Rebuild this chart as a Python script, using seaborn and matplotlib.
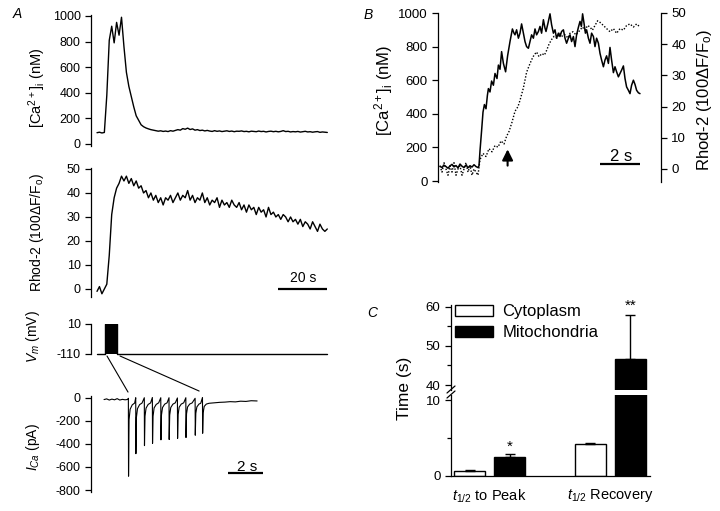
import numpy as np
import pandas as pd
import matplotlib
matplotlib.use("Agg")
import matplotlib.pyplot as plt
import seaborn as sns
from matplotlib.patches import Patch, ConnectionPatch
from matplotlib.lines import Line2D

sns.set_style("ticks")
plt.rcParams['font.family'] = ['Liberation Sans', 'DejaVu Sans']
plt.rcParams['mathtext.fontset'] = 'custom'
plt.rcParams['mathtext.rm'] = 'Liberation Sans'
plt.rcParams['mathtext.it'] = 'Liberation Sans:italic'
plt.rcParams['mathtext.bf'] = 'Liberation Sans:bold'
plt.rcParams['axes.edgecolor'] = 'black'
plt.rcParams['axes.linewidth'] = 0.9
plt.rcParams['axes.unicode_minus'] = False
plt.rcParams['xtick.color'] = 'black'
plt.rcParams['ytick.color'] = 'black'
plt.rcParams['text.color'] = 'black'

# ---------------- data ----------------
# A: cytosolic Ca (nM), one sample per second
ca_nm = [88, 92, 86, 90, 380, 810, 920, 790, 950, 850,
         990, 760, 560, 450, 370, 290, 220, 185, 150, 135,
         125, 118, 112, 108, 104, 100, 103, 98, 101, 97,
         104, 100, 106, 112, 108, 120, 115, 124, 113, 118,
         108, 112, 105, 108, 102, 106, 101, 98, 104, 99,
         102, 97, 100, 103, 98, 101, 96, 100, 99, 102,
         97, 99, 95, 100, 98, 96, 101, 97, 99, 94,
         98, 100, 96, 99, 95, 98, 104, 97, 99, 94,
         97, 95, 98, 93, 96, 99, 94, 96, 92, 95,
         97, 91, 94, 92, 90]
# A: rhod-2 (100 dF/Fo), one sample per second
rhod_a = [-1, 1, -2, 0, 2, 14, 31, 38, 42, 44,
          47, 45, 47, 44, 46, 43, 45, 42, 43, 40,
          41, 38, 40, 37, 39, 36, 38, 35, 38, 37,
          39, 36, 38, 40, 37, 39, 38, 41, 37, 39,
          36, 38, 37, 40, 36, 38, 35, 37, 36, 38,
          34, 37, 35, 36, 34, 37, 35, 34, 36, 33,
          35, 32, 35, 33, 34, 31, 34, 32, 33, 30,
          34, 31, 32, 30, 31, 29, 31, 30, 28, 30,
          28, 29, 27, 29, 26, 28, 27, 25, 28, 26,
          24, 27, 25, 24, 25]
sample_s = 1.0

# A: voltage protocol
vm_t = [0, 3.3, 3.3, 8.2, 8.2, 94]
vm_mv = [-110, -110, 10, 10, -110, -110]
pulse_on, pulse_off = 3.3, 8.2

# A: Ca current (pA)
ica_t = [0.00, 0.15, 0.30, 0.45, 0.60, 0.75, 0.90, 1.05, 1.20, 1.35,
         1.39, 1.40, 1.43, 1.49, 1.61, 1.75,
         1.81, 1.82, 1.85, 1.91, 2.03, 2.17,
         2.30, 2.31, 2.34, 2.40, 2.52, 2.66,
         2.76, 2.77, 2.80, 2.86, 2.98, 3.12,
         3.24, 3.25, 3.28, 3.34, 3.46, 3.60,
         3.71, 3.72, 3.75, 3.81, 3.93, 4.07,
         4.19, 4.20, 4.23, 4.29, 4.41, 4.55,
         4.67, 4.68, 4.71, 4.77, 4.89, 5.03,
         5.20, 5.21, 5.24, 5.30, 5.42, 5.52,
         5.62, 5.63, 5.66, 5.72, 5.84, 6.00,
         6.30, 6.60, 6.90, 7.20, 7.50, 7.80, 8.10, 8.40, 8.74]
ica_pa = [-16, -10, -20, -12, -18, -8, -20, -14, -18, -15,
          -5, -680, -190, -100, -62, -46,
          0, -485, -170, -95, -60, -46,
          0, -415, -160, -90, -58, -45,
          2, -395, -160, -88, -58, -44,
          0, -365, -150, -85, -56, -44,
          0, -362, -150, -85, -56, -44,
          -2, -352, -145, -82, -55, -44,
          0, -345, -140, -80, -55, -45,
          -5, -325, -135, -80, -55, -48,
          2, -308, -130, -75, -55, -48,
          -44, -40, -38, -34, -36, -30, -32, -26, -28]

# B: expanded time course
b_ca_t = [0.0, 0.1, 0.2, 0.3, 0.4, 0.5, 0.6, 0.7, 0.8, 0.9,
          1.0, 1.1, 1.2, 1.3, 1.4, 1.5, 1.6, 1.7, 1.8, 1.9,
          1.95, 2.0, 2.08, 2.15, 2.22, 2.3, 2.37, 2.42, 2.5, 2.58,
          2.67, 2.75, 2.85, 2.92, 3.0, 3.08, 3.17, 3.28, 3.38, 3.5,
          3.62, 3.7, 3.75, 3.83, 3.92, 4.0, 4.08, 4.17, 4.25, 4.33,
          4.42, 4.5, 4.58, 4.67, 4.75, 4.83, 4.92, 5.0, 5.08, 5.17,
          5.25, 5.3, 5.4, 5.5, 5.58, 5.67, 5.75, 5.83, 5.92, 6.0,
          6.08, 6.17, 6.25, 6.33, 6.42, 6.5, 6.58, 6.67, 6.75, 6.83,
          6.92, 7.0, 7.07, 7.13, 7.2, 7.27, 7.33, 7.42, 7.5, 7.58,
          7.67, 7.75, 7.83, 7.92, 8.0, 8.08, 8.17, 8.25, 8.33, 8.42,
          8.5, 8.58, 8.67, 8.75, 8.83, 8.92, 9.0, 9.08, 9.17, 9.25,
          9.33, 9.42, 9.5, 9.58, 9.67, 9.75, 9.83, 9.92, 10.0]
b_ca_nm = [88, 80, 94, 86, 76, 90, 99, 84, 92, 78,
           101, 88, 80, 95, 79, 91, 83, 97, 86, 80,
           90, 180, 300, 410, 455, 430, 510, 550, 530, 595,
           570, 640, 610, 690, 665, 770, 700, 650, 745, 830,
           905, 880, 870, 900, 850, 880, 935, 880, 830, 800,
           790, 830, 870, 850, 905, 870, 890, 920, 880, 960,
           910, 890, 940, 995, 930, 880, 900, 850, 880, 860,
           890, 900, 850, 820, 850, 870, 830, 860, 800, 870,
           915, 950, 920, 995, 940, 880, 900, 850, 820, 880,
           860, 800, 850, 820, 760, 720, 680, 720, 745, 700,
           795, 720, 645, 680, 650, 620, 640, 660, 685, 610,
           560, 540, 520, 570, 600, 575, 540, 525, 520]
b_rh_t = [0.0, 0.1, 0.2, 0.3, 0.4, 0.5, 0.6, 0.7, 0.8, 0.9,
          1.0, 1.1, 1.2, 1.3, 1.4, 1.5, 1.6, 1.7, 1.8, 1.9,
          2.0, 2.15, 2.3, 2.45, 2.6, 2.75, 2.9, 3.05, 3.2, 3.33,
          3.45, 3.6, 3.75, 3.9, 4.0, 4.17, 4.33, 4.45, 4.58, 4.7,
          4.83, 4.95, 5.1, 5.22, 5.33, 5.45, 5.58, 5.7, 5.85, 6.0,
          6.12, 6.25, 6.4, 6.5, 6.65, 6.8, 7.0, 7.12, 7.25, 7.38,
          7.5, 7.62, 7.75, 7.88, 8.0, 8.17, 8.33, 8.5, 8.67, 8.83,
          9.0, 9.17, 9.33, 9.5, 9.67, 9.83, 10.0]
b_rhod = [1, -1, 2, 0, -2, 1, -1, 2, -2, 0,
          1, -2, 0, 2, -1, 1, -2, 0, -1, -2,
          3, 5, 4, 6.5, 5.5, 7.5, 7, 9, 8, 10.5,
          12, 15, 18.5, 20, 22, 26, 31, 33, 35, 36.5,
          37.5, 36, 37, 36.5, 38, 40, 41.5, 42.5, 42, 43.5,
          42.5, 43, 42, 43.5, 44, 43, 44.5, 45.5, 44.5, 46,
          45.5, 44.5, 46, 47.5, 47, 46, 45, 44, 45, 43.5,
          45, 44.5, 46, 46.5, 45.5, 46.5, 45.5]
arrow_t = 3.38

# C: half-times (s)
phases = [r"$t_{1/2}$ to Peak", r"$t_{1/2}$ Recovery"]
compartments = ["Cytoplasm", "Mitochondria"]
cyto_mean = [0.7, 4.2]
cyto_err = [0.05, 0.2]
mito_mean = [2.5, 46.7]
mito_err = [0.35, 11.3]

# ---------------- figure ----------------
W, H = 720, 511
fig = plt.figure(figsize=(W / 100, H / 100), dpi=100)


def add_ax(x0, y0, x1, y1):
    return fig.add_axes([x0 / W, 1 - y1 / H, (x1 - x0) / W, (y1 - y0) / H])


def style(ax, fs=9):
    for s in ['top', 'right', 'bottom']:
        ax.spines[s].set_visible(False)
    ax.tick_params(axis='y', direction='out', length=4.5, width=0.9, pad=3, labelsize=fs)
    ax.tick_params(axis='x', bottom=False, labelbottom=False)
    ax.set_xlabel('')
    ax.set_ylabel('')
    ax.patch.set_alpha(0)


def trace(ax, x, y, **kw):
    sns.lineplot(x=x, y=y, ax=ax, color='k', estimator=None, sort=False, **kw)


ca_t = np.arange(len(ca_nm)) * sample_s
rh_t = np.arange(len(rhod_a)) * sample_s

# A - Ca
ax_ca = add_ax(91, 14.7, 330, 145.9)
trace(ax_ca, ca_t, ca_nm, lw=1.0)
ax_ca.set_xlim(-2.45, 95.1)
ax_ca.set_ylim(-15, 1010)
ax_ca.set_yticks(range(0, 1001, 200))
style(ax_ca)

# A - rhod-2
ax_rh = add_ax(91, 168, 330, 296.9)
trace(ax_rh, rh_t, rhod_a, lw=1.0)
ax_rh.set_xlim(-2.45, 95.1)
ax_rh.set_ylim(-3.3, 50.4)
ax_rh.set_yticks(range(0, 51, 10))
style(ax_rh)
ax_rh.plot([74, 94], [0, 0], color='k', lw=1.6, solid_capstyle='butt')
ax_rh.text(84, 4.6, '20 s', ha='center', va='center', fontsize=10)

# A - Vm
ax_vm = add_ax(91, 323.5, 330, 355.5)
trace(ax_vm, vm_t, vm_mv, lw=1.0)
ax_vm.fill_between([pulse_on, pulse_off], -110, 10, color='k', lw=0)
ax_vm.set_xlim(-2.45, 95.1)
ax_vm.set_ylim(-116, 12)
ax_vm.set_yticks([10, -110])
style(ax_vm)
ax_vm.spines['left'].set_bounds(-110, 12)

# A - ICa
ax_i = add_ax(91, 396, 330, 492)
trace(ax_i, ica_t, ica_pa, lw=0.8)
ax_i.set_xlim(-0.743, 12.9)
ax_i.set_ylim(-817, 15)
ax_i.set_yticks(range(0, -801, -200))
style(ax_i)
ax_i.plot([7.09, 9.09], [-652, -652], color='k', lw=1.6, solid_capstyle='butt')
ax_i.text(8.15, -598, '2 s', ha='center', va='center', fontsize=11)

for (ta, tb, yb) in [(4.08, 1.37, 49), (9.39, 5.43, 58)]:
    con = ConnectionPatch(xyA=(ta, -118), coordsA=ax_vm.transData,
                          xyB=(tb, yb), coordsB=ax_i.transData, lw=0.8, color='k')
    fig.add_artist(con)

# A labels
fig.text(17 / W, 1 - 14 / H, 'A', style='italic', fontsize=10, ha='center', va='center')
fig.text(37 / W, 1 - 88 / H, r"[Ca$^{2+}$]$_\mathrm{i}$ (nM)", rotation=90, fontsize=10.5,
         ha='center', va='center')
fig.text(37 / W, 1 - 233 / H, r"Rhod-2 (100ΔF/F$_\mathrm{o}$)", rotation=90, fontsize=10,
         ha='center', va='center')
fig.text(33 / W, 1 - 337 / H, r"$V_m$ (mV)", rotation=90, fontsize=10,
         ha='center', va='center')
fig.text(33 / W, 1 - 447 / H, r"$I_{Ca}$ (pA)", rotation=90, fontsize=10,
         ha='center', va='center')

# B
ax_b = add_ax(438, 13, 661, 181.84)
trace(ax_b, b_ca_t, b_ca_nm, lw=1.1)
ax_b.set_xlim(-0.1, 11.05)
ax_b.set_ylim(-5, 1000)
ax_b.set_yticks(range(0, 1001, 200))
style(ax_b, fs=9.5)
ax_b2 = ax_b.twinx()
trace(ax_b2, b_rh_t, b_rhod, lw=1.0, linestyle=(0, (1, 1.3)))
ax_b2.set_ylim(-4.12, 50)
ax_b2.set_yticks(range(0, 51, 10))
for s in ['top', 'left', 'bottom']:
    ax_b2.spines[s].set_visible(False)
ax_b2.tick_params(axis='y', direction='out', length=4.5, width=0.9, pad=3, labelsize=9.5)
ax_b2.set_ylabel('')
ax_b.plot([8, 10], [101, 101], color='k', lw=1.6, solid_capstyle='butt')
ax_b.text(9.04, 148, '2 s', ha='center', va='center', fontsize=12)
ax_b.annotate('', xy=(arrow_t, 205), xytext=(arrow_t, 75),
              arrowprops=dict(arrowstyle='-|>', lw=1.5, color='k', mutation_scale=16))
fig.text(368 / W, 1 - 15 / H, 'B', style='italic', fontsize=10, ha='center', va='center')
fig.text(384 / W, 1 - 90 / H, r"[Ca$^{2+}$]$_\mathrm{i}$ (nM)", rotation=90, fontsize=12,
         ha='center', va='center')
fig.text(704 / W, 1 - 100 / H, r"Rhod-2 (100ΔF/F$_\mathrm{o}$)", rotation=90, fontsize=12,
         ha='center', va='center')

# C
df_c = pd.DataFrame({'phase': phases * 2,
                     'compartment': [compartments[0]] * 2 + [compartments[1]] * 2,
                     'time': cyto_mean + mito_mean})
pal = {'Cytoplasm': 'white', 'Mitochondria': 'black'}
ax_hi = add_ax(451, 305, 650, 390)
ax_lo = add_ax(451, 395, 650, 476)
for ax in (ax_hi, ax_lo):
    sns.barplot(data=df_c, x='phase', y='time', hue='compartment', hue_order=compartments,
                palette=pal, edgecolor='k', linewidth=1, width=0.664, gap=0.22,
                errorbar=None, legend=False, ax=ax)
    for cont, errs in zip(ax.containers, [cyto_err, mito_err]):
        for bar, e in zip(cont, errs):
            xc = bar.get_x() + bar.get_width() / 2
            ax.errorbar(xc, bar.get_height(), yerr=[[0], [e]], fmt='none', ecolor='k',
                        elinewidth=1, capsize=3.5, capthick=1)
    ax.set_xlim(-0.32, 1.33)
    ax.set_xlabel('')
    ax.set_ylabel('')
    ax.spines['top'].set_visible(False)
    ax.spines['right'].set_visible(False)
    ax.patch.set_alpha(0)
    ax.tick_params(axis='y', which='major', direction='out', length=4.5, width=0.9, pad=3,
                   labelsize=9.5)
    ax.tick_params(axis='y', which='minor', direction='out', length=3, width=0.9)

ax_hi.set_ylim(38.72, 60.5)
ax_hi.set_yticks([40, 50, 60])
ax_hi.set_yticks([45, 55], minor=True)
ax_hi.spines['bottom'].set_visible(False)
ax_hi.tick_params(axis='x', bottom=False, labelbottom=False)

ax_lo.set_ylim(0, 10.66)
ax_lo.set_yticks([0, 10])
ax_lo.set_yticks([5], minor=True)
ax_lo.tick_params(axis='x', length=0, pad=8, labelsize=10.5)

mp = ax_lo.containers[1][0]
ax_lo.text(mp.get_x() + mp.get_width() / 2, 3.9, '*', ha='center', va='center', fontsize=11)
mr = ax_hi.containers[1][1]
ax_hi.text(mr.get_x() + mr.get_width() / 2, 60.2, '**', ha='center', va='center', fontsize=11)

for (y0, y1) in [(393, 386), (398, 391)]:
    fig.add_artist(Line2D([447 / W, 455 / W], [1 - y0 / H, 1 - y1 / H], color='k', lw=0.9))

ax_hi.legend(handles=[Patch(facecolor='white', edgecolor='k', lw=1),
                      Patch(facecolor='black', edgecolor='k', lw=1)],
             labels=compartments, loc='upper left',
             bbox_to_anchor=(455 / W, 1 - 304 / H), bbox_transform=fig.transFigure,
             frameon=False, fontsize=12, handlelength=2.3, handleheight=0.66,
             handletextpad=0.55, labelspacing=0.38, borderpad=0, borderaxespad=0)

fig.text(372 / W, 1 - 313 / H, 'C', style='italic', fontsize=10, ha='center', va='center')
fig.text(405 / W, 1 - 388 / H, 'Time (s)', rotation=90, fontsize=12.5, ha='center', va='center')

fig.savefig('out.png', dpi=100)
